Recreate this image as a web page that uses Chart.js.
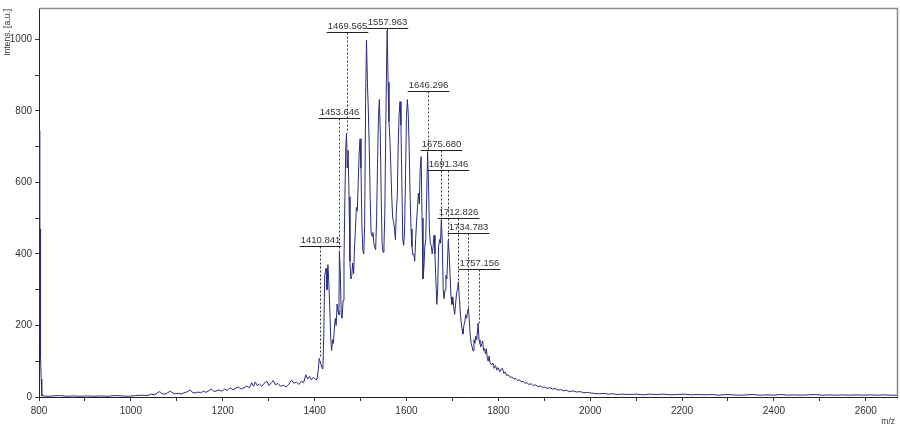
<!DOCTYPE html>
<html>
<head>
<meta charset="utf-8">
<script src="https://cdn.jsdelivr.net/npm/chart.js@4.4.0/dist/chart.umd.min.js"></script>
<style>
  html, body { margin: 0; padding: 0; background: #fff; }
  #spectrum { display: block; }
</style>
</head>
<body>
<canvas id="spectrum" width="900" height="427"></canvas>
<script>
// m/z values
const mz = [
  800.8, 801.3, 801.8, 802.3, 802.8, 803.3, 804, 804.8, 805.5, 806.5,
  807, 808, 810, 820, 830, 845, 860, 875, 890, 905,
  920, 935, 950, 965, 980, 995, 1010, 1025, 1035, 1045,
  1052, 1058, 1063, 1068, 1075, 1080, 1086, 1092, 1098, 1104,
  1110, 1116, 1122, 1129, 1134, 1140, 1146, 1152, 1158, 1164,
  1170, 1176, 1181, 1186, 1192, 1198, 1204, 1210, 1216, 1222,
  1228, 1234, 1240, 1246, 1252, 1258, 1263, 1267, 1271, 1275,
  1280, 1285, 1290, 1296, 1301, 1306, 1310, 1315, 1320, 1326,
  1332, 1338, 1344, 1350, 1355, 1360, 1366, 1371, 1376, 1381,
  1385, 1389, 1393, 1397, 1401, 1405, 1408, 1410, 1413, 1416,
  1418, 1420, 1422, 1425, 1427, 1429, 1431, 1433, 1435, 1437,
  1439, 1441, 1443, 1445, 1447, 1449, 1451, 1453, 1454, 1456,
  1458, 1460, 1462, 1464, 1466, 1468, 1469.5, 1471, 1473, 1475,
  1477, 1479, 1481, 1483, 1485, 1487, 1489, 1491, 1493, 1495,
  1497, 1499, 1501, 1503, 1505, 1507, 1509, 1511, 1513, 1515,
  1517, 1519, 1521, 1523, 1525, 1527, 1529, 1531, 1533, 1535,
  1537, 1539, 1541, 1543, 1545, 1547, 1549, 1551, 1553, 1555,
  1557, 1558, 1560, 1562, 1564, 1566, 1568, 1570, 1572, 1574,
  1576, 1578, 1580, 1582, 1584, 1586, 1588, 1590, 1592, 1594,
  1596, 1598, 1600, 1602, 1604, 1606, 1608, 1610, 1612, 1614,
  1616, 1618, 1620, 1622, 1624, 1626, 1628, 1630, 1632, 1634,
  1636, 1638, 1640, 1642, 1644, 1646, 1648, 1650, 1652, 1654,
  1656, 1658, 1660, 1662, 1664, 1666, 1668, 1670, 1672, 1674,
  1676, 1678, 1680, 1682, 1684, 1686, 1688, 1690, 1691, 1693,
  1695, 1697, 1699, 1701, 1703, 1705, 1707, 1709, 1711, 1713,
  1715, 1717, 1719, 1721, 1723, 1725, 1727, 1729, 1731, 1733,
  1735, 1737, 1739, 1741, 1743, 1745, 1747, 1749, 1751, 1753,
  1755, 1756, 1758, 1760, 1762, 1764, 1766, 1768, 1770, 1772,
  1774, 1776, 1778, 1780, 1782, 1785, 1788, 1791, 1794, 1797,
  1800, 1803, 1806, 1809, 1812, 1815, 1818, 1822, 1826, 1830,
  1834, 1838, 1842, 1846, 1850, 1854, 1858, 1862, 1867, 1872,
  1876, 1881, 1886, 1891, 1896, 1901, 1906, 1912, 1918, 1924,
  1930, 1936, 1942, 1948, 1955, 1962, 1970, 1978, 1986, 1994,
  2002, 2010, 2020, 2030, 2040, 2050, 2060, 2070, 2085, 2100,
  2115, 2130, 2145, 2160, 2175, 2190, 2205, 2220, 2235, 2250,
  2265, 2280, 2295, 2310, 2325, 2340, 2355, 2370, 2385, 2400,
  2415, 2430, 2445, 2460, 2475, 2490, 2505, 2520, 2535, 2550,
  2565, 2580, 2595, 2610, 2625, 2640, 2655, 2668
];

// intensities [a.u.], same order as mz
const intensity = [
  745, 200, 490, 180, 470, 200, 110, 50, 12, 4,
  6, 3, 3, 2, 3, 4, 2, 3, 2, 3,
  2, 3, 2, 4, 3, 2, 4, 5, 4, 8,
  6, 12, 15, 9, 8, 12, 16, 11, 9, 10,
  8, 12, 14, 20, 13, 11, 14, 12, 16, 13,
  18, 22, 15, 17, 20, 16, 22, 18, 26, 20,
  24, 28, 22, 26, 30, 26, 40, 30, 42, 32,
  36, 30, 38, 44, 32, 40, 46, 34, 38, 30,
  33, 28, 36, 47, 38, 42, 35, 44, 40, 62,
  50, 58, 48, 55, 50, 48, 75, 108, 95, 82,
  78, 170, 340, 360, 300, 370, 320, 250, 170, 130,
  160, 150, 190, 220, 200, 260, 240, 230, 405, 350,
  230, 220, 270, 380, 560, 700, 738, 640, 690, 560,
  380, 330, 340, 375, 345, 420, 470, 530, 520, 600,
  680, 722, 640, 480, 410, 400, 480, 820, 998, 880,
  800, 700, 560, 460, 450, 460, 430, 420, 412, 500,
  650, 780, 832, 740, 560, 430, 405, 420, 520, 760,
  950, 1025, 880, 770, 720, 640, 560, 500, 490, 470,
  440, 520, 560, 700, 790, 826, 760, 600, 440, 424,
  470, 620, 780, 832, 790, 690, 560, 470, 420, 397,
  400, 380, 440, 490, 530, 570, 540, 640, 672, 500,
  330, 360, 420, 440, 560, 686, 600, 470, 430, 424,
  400, 420, 452, 400, 330, 259, 300, 420, 440, 430,
  496, 430, 300, 275, 300, 340, 330, 400, 438, 400,
  340, 280, 259, 280, 250, 231, 260, 290, 300, 322,
  280, 240, 210, 190, 176, 200, 210, 230, 220, 240,
  248, 210, 170, 150, 140, 129, 160, 150, 170, 160,
  190, 207, 160, 150, 140, 150, 157, 130, 135, 120,
  135, 110, 100, 115, 97, 90, 95, 80, 88, 75,
  82, 70, 78, 80, 66, 70, 60, 62, 55, 56,
  50, 52, 46, 48, 42, 44, 38, 40, 35, 37,
  32, 34, 29, 31, 27, 28, 24, 26, 22, 24,
  19, 21, 17, 19, 15, 17, 14, 15, 12, 13,
  11, 10, 9, 10, 8, 9, 7, 8, 7, 8,
  6, 8, 7, 8, 6, 7, 8, 6, 7, 6,
  7, 5, 7, 6, 5, 6, 7, 5, 6, 5,
  7, 5, 6, 5, 6, 7, 5, 6, 5, 6,
  5, 6, 5, 6, 5, 6, 5, 5
];

// peak annotations
const peakLabels = ['1410.841', '1453.646', '1469.565', '1557.963', '1646.296',
  '1675.680', '1691.346', '1712.826', '1734.783', '1757.156'];
const peakMz = [1410.841, 1453.646, 1469.565, 1557.963, 1646.296,
  1675.680, 1691.346, 1712.826, 1734.783, 1757.156];
const peakTop = [108, 405, 738, 1025, 686, 496, 438, 322, 248, 207];
const labelLevel = [421, 781, 1020, 1031, 855, 692, 636, 501, 458, 357];

const FONT = '"Liberation Sans", Arial, sans-serif';

const peakLabelPlugin = {
  id: 'peakLabels',
  afterDatasetsDraw(chart) {
    const { ctx, scales: { x, y } } = chart;
    ctx.save();
    ctx.font = '9.5px ' + FONT;
    ctx.textAlign = 'center';
    ctx.textBaseline = 'bottom';
    peakLabels.forEach((txt, i) => {
      const px = Math.round(x.getPixelForValue(peakMz[i])) + 0.5;
      const ly = Math.round(y.getPixelForValue(labelLevel[i])) + 0.5;
      const py = y.getPixelForValue(peakTop[i]);
      const w = ctx.measureText(txt).width + 2;
      // dotted drop line
      ctx.strokeStyle = '#333';
      ctx.lineWidth = 1;
      ctx.setLineDash([2, 2]);
      ctx.beginPath();
      ctx.moveTo(px, ly);
      ctx.lineTo(px, py);
      ctx.stroke();
      ctx.setLineDash([]);
      // underline
      ctx.strokeStyle = '#222';
      ctx.beginPath();
      ctx.moveTo(px - w / 2, ly);
      ctx.lineTo(px + w / 2, ly);
      ctx.stroke();
      ctx.fillStyle = '#333';
      ctx.fillText(txt, px, ly - 1);
    });
    ctx.restore();
  },
  afterDraw(chart) {
    const { ctx, chartArea } = chart;
    ctx.save();
    // grey frame top and right
    ctx.strokeStyle = '#8a8a8a';
    ctx.lineWidth = 1.5;
    ctx.beginPath();
    ctx.moveTo(chartArea.left, chartArea.top - 0.5);
    ctx.lineTo(chartArea.right + 0.5, chartArea.top - 0.5);
    ctx.lineTo(chartArea.right + 0.5, chartArea.bottom);
    ctx.stroke();
    // axis titles
    ctx.fillStyle = '#333';
    ctx.font = '8.5px ' + FONT;
    ctx.textAlign = 'right';
    ctx.textBaseline = 'bottom';
    ctx.fillText('m/z', 895, 426);
    ctx.translate(12, chartArea.top);
    ctx.rotate(-Math.PI / 2);
    ctx.fillText('Intens. [a.u.]', 0, 0);
    ctx.restore();
  }
};

const points = mz.map((m, i) => ({ x: m, y: intensity[i] }));

const ctx = document.getElementById('spectrum').getContext('2d');
const spectrumChart = new Chart(ctx, {
  type: 'line',
  data: {
    datasets: [{
      data: points,
      borderColor: '#2b2b7a',
      borderWidth: 1,
      pointRadius: 0,
      tension: 0,
      fill: false
    }]
  },
  options: {
    responsive: false,
    animation: false,
    devicePixelRatio: 1,
    layout: { padding: { top: 3, right: 3, left: 0, bottom: 0 } },
    plugins: {
      legend: { display: false },
      tooltip: { enabled: false }
    },
    scales: {
      x: {
        type: 'linear',
        min: 800,
        max: 2668,
        afterFit: (scale) => { scale.height = 30; },
        ticks: {
          stepSize: 100,
          includeBounds: false,
          autoSkip: false,
          maxRotation: 0,
          padding: 4,
          color: '#333',
          font: { family: FONT, size: 10 },
          callback: (v) => (v % 200 === 0 ? v : '')
        },
        grid: { drawOnChartArea: false, drawTicks: true, tickLength: 4, tickColor: '#333' },
        border: { display: true, color: '#222' }
      },
      y: {
        min: 0,
        max: 1085,
        afterFit: (scale) => { scale.width = 39; },
        ticks: {
          stepSize: 100,
          includeBounds: false,
          autoSkip: false,
          padding: 3,
          color: '#333',
          font: { family: FONT, size: 10 },
          callback: (v) => (v % 200 === 0 ? v : '')
        },
        grid: { drawOnChartArea: false, drawTicks: true, tickLength: 4, tickColor: '#333' },
        border: { display: true, color: '#222' }
      }
    }
  },
  plugins: [peakLabelPlugin]
});
</script>
</body>
</html>
